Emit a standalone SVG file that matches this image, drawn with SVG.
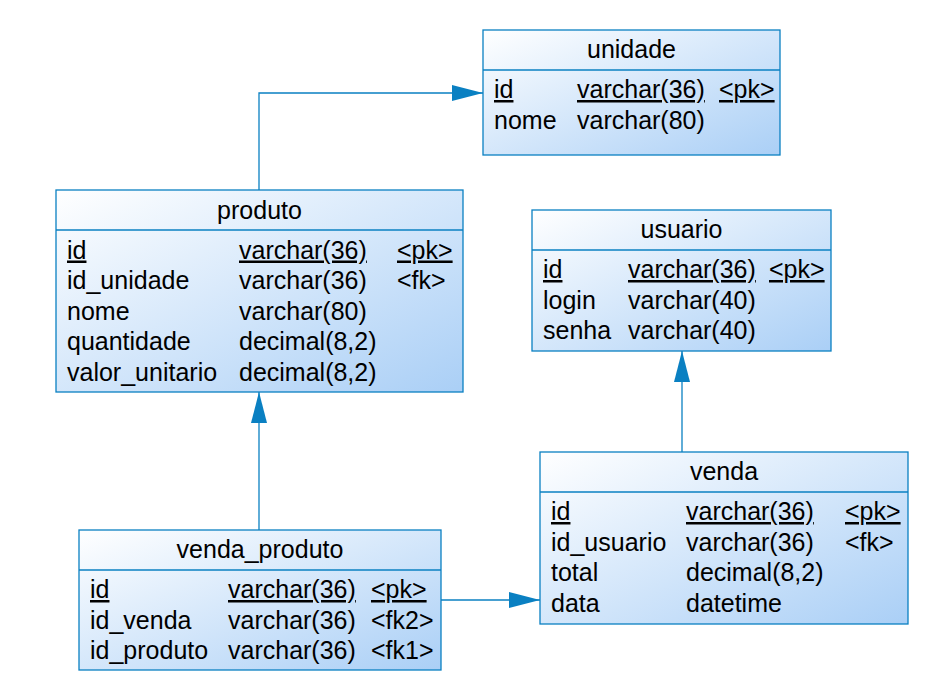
<svg xmlns="http://www.w3.org/2000/svg" width="936" height="690" viewBox="0 0 936 690">
<defs>
<linearGradient id="g" x1="0" y1="0" x2="1" y2="1">
<stop offset="0" stop-color="#FFFFFF"/>
<stop offset="1" stop-color="#AACFF6"/>
</linearGradient>
<marker id="arr" markerWidth="31" markerHeight="16" refX="31" refY="8" orient="auto" markerUnits="userSpaceOnUse">
<polygon points="0,0 31,8 0,16" fill="#0A80C2"/>
</marker>
</defs>
<style>
.box{fill:url(#g);stroke:#0A80C2;stroke-width:1.3}
.div{stroke:#0A80C2;stroke-width:1.3}
text{font-family:"Liberation Sans",Arial,sans-serif;font-size:25px;fill:#000}
.t{text-anchor:middle}
.u{text-decoration:underline;text-decoration-thickness:2px}
.c{fill:none;stroke:#0A80C2;stroke-width:1.3}
</style>
<rect width="936" height="690" fill="#fff"/>
<g id="connectors">
<polyline class="c" points="259,190 259,93 483,93" marker-end="url(#arr)"/>
<line class="c" x1="259" y1="530" x2="259" y2="392" marker-end="url(#arr)"/>
<line class="c" x1="682" y1="452" x2="682" y2="351" marker-end="url(#arr)"/>
<line class="c" x1="441" y1="600" x2="540" y2="600" marker-end="url(#arr)"/>
</g>
<g id="unidade">
<rect class="box" x="483" y="30" width="297" height="125"/>
<line class="div" x1="483" y1="70" x2="780" y2="70"/>
<text class="t" x="631.5" y="58">unidade</text>
<text class="u" x="494" y="98">id</text><text class="u" x="577" y="98">varchar(36)</text><text class="u" x="719" y="98">&lt;pk&gt;</text>
<text x="494" y="128.5">nome</text><text x="577" y="128.5">varchar(80)</text>
</g>
<g id="produto">
<rect class="box" x="56" y="190" width="407" height="202"/>
<line class="div" x1="56" y1="230" x2="463" y2="230"/>
<text class="t" x="259.5" y="219">produto</text>
<text class="u" x="67" y="258.5">id</text><text class="u" x="239" y="258.5">varchar(36)</text><text class="u" x="397" y="258.5">&lt;pk&gt;</text>
<text x="67" y="289">id_unidade</text><text x="239" y="289">varchar(36)</text><text x="397" y="289">&lt;fk&gt;</text>
<text x="67" y="319.5">nome</text><text x="239" y="319.5">varchar(80)</text>
<text x="67" y="350">quantidade</text><text x="239" y="350">decimal(8,2)</text>
<text x="67" y="380.5">valor_unitario</text><text x="239" y="380.5">decimal(8,2)</text>
</g>
<g id="usuario">
<rect class="box" x="532" y="210" width="299" height="141"/>
<line class="div" x1="532" y1="250" x2="831" y2="250"/>
<text class="t" x="681.5" y="238">usuario</text>
<text class="u" x="543" y="278">id</text><text class="u" x="628" y="278">varchar(36)</text><text class="u" x="769" y="278">&lt;pk&gt;</text>
<text x="543" y="308.5">login</text><text x="628" y="308.5">varchar(40)</text>
<text x="543" y="339">senha</text><text x="628" y="339">varchar(40)</text>
</g>
<g id="venda">
<rect class="box" x="540" y="452" width="368" height="172"/>
<line class="div" x1="540" y1="492" x2="908" y2="492"/>
<text class="t" x="724" y="480">venda</text>
<text class="u" x="551" y="520">id</text><text class="u" x="686" y="520">varchar(36)</text><text class="u" x="845" y="520">&lt;pk&gt;</text>
<text x="551" y="550.5">id_usuario</text><text x="686" y="550.5">varchar(36)</text><text x="845" y="550.5">&lt;fk&gt;</text>
<text x="551" y="581">total</text><text x="686" y="581">decimal(8,2)</text>
<text x="551" y="611.5">data</text><text x="686" y="611.5">datetime</text>
</g>
<g id="venda_produto">
<rect class="box" x="79" y="530" width="362" height="140"/>
<line class="div" x1="79" y1="570" x2="441" y2="570"/>
<text class="t" x="260" y="558">venda_produto</text>
<text class="u" x="90" y="598">id</text><text class="u" x="228" y="598">varchar(36)</text><text class="u" x="371" y="598">&lt;pk&gt;</text>
<text x="90" y="628.5">id_venda</text><text x="228" y="628.5">varchar(36)</text><text x="371" y="628.5">&lt;fk2&gt;</text>
<text x="90" y="659">id_produto</text><text x="228" y="659">varchar(36)</text><text x="371" y="659">&lt;fk1&gt;</text>
</g>
</svg>
